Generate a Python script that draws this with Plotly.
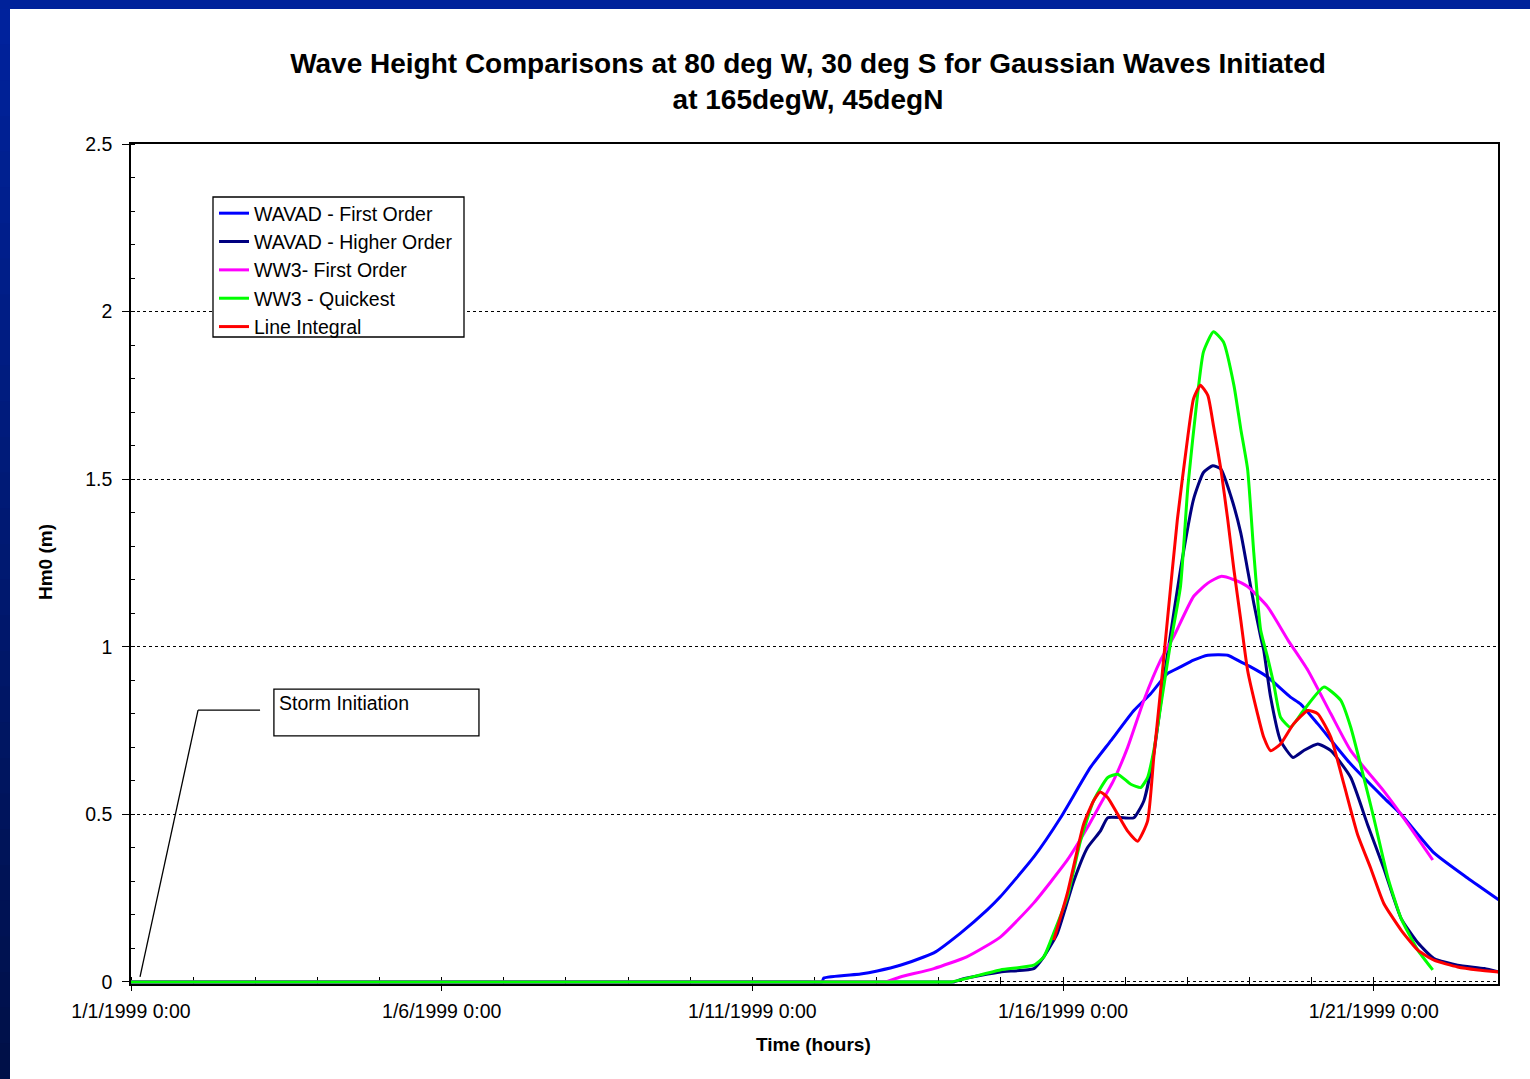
import plotly.graph_objects as go
import pandas as pd

START = pd.Timestamp("1999-01-01")

# ---- data (days since 1/1/1999 0:00, Hm0 in m) ----
wavad_first_days = [0, 10.90, 11.12, 11.15, 11.74, 12.01, 12.38, 12.92, 13.35, 13.78, 13.99, 14.53, 14.96,
                    15.44, 15.77, 16.14, 16.41, 16.68, 16.89, 17.10, 17.33, 17.65, 17.86, 18.02,
                    18.29, 18.66, 18.82, 19.10, 19.63, 20.16, 20.44, 20.97, 21.51, 22.01]
wavad_first_vals = [0, 0, 0, 0.012, 0.024, 0.033, 0.05, 0.087, 0.146, 0.215, 0.254, 0.373, 0.49,
                    0.64, 0.72, 0.81, 0.86, 0.92, 0.94, 0.96, 0.975, 0.975, 0.955, 0.94,
                    0.91, 0.85, 0.83, 0.77, 0.65, 0.55, 0.50, 0.385, 0.31, 0.245]

wavad_higher_days = [0, 13.05, 13.24, 13.40, 13.99, 14.53, 14.69, 14.91, 15.17, 15.39, 15.60, 15.72, 15.97,
                     16.14, 16.30, 16.46, 16.62, 16.70, 16.89, 17.10, 17.26, 17.41, 17.54, 17.70,
                     17.86, 17.97, 18.07, 18.18, 18.23, 18.34, 18.50, 18.70, 18.87, 19.10, 19.31,
                     19.63, 19.90, 20.16, 20.44, 20.71, 20.97, 21.35, 21.78, 22.01]
wavad_higher_vals = [0, 0, 0, 0.01, 0.03, 0.04, 0.075, 0.146, 0.30, 0.40, 0.45, 0.49, 0.49,
                     0.49, 0.54, 0.68, 0.90, 1.0, 1.23, 1.44, 1.52, 1.54, 1.53, 1.45,
                     1.34, 1.23, 1.13, 1.03, 0.99, 0.85, 0.72, 0.67, 0.69, 0.71, 0.69,
                     0.61, 0.47, 0.34, 0.19, 0.117, 0.07, 0.05, 0.04, 0.03]

ww3_first_days = [0, 11.90, 12.13, 12.38, 12.92, 13.45, 13.99, 14.53, 15.07, 15.39, 15.60, 15.81, 16.04,
                  16.30, 16.57, 16.78, 17.10, 17.33, 17.54, 17.75, 17.97, 18.29, 18.62, 18.94,
                  19.31, 19.63, 20.16, 20.44, 20.95]
ww3_first_vals = [0, 0, 0, 0.015, 0.04, 0.075, 0.134, 0.236, 0.364, 0.46, 0.53, 0.60, 0.70,
                  0.84, 0.96, 1.03, 1.15, 1.19, 1.21, 1.20, 1.18, 1.12, 1.02, 0.93,
                  0.80, 0.69, 0.57, 0.50, 0.364]

ww3_quick_days = [0, 13.00, 13.20, 13.99, 14.53, 14.69, 14.85, 15.07, 15.28, 15.49, 15.72, 15.88, 16.09,
                  16.25, 16.36, 16.46, 16.57, 16.72, 16.89, 17.01, 17.17, 17.26, 17.42, 17.58,
                  17.75, 17.86, 17.97, 18.07, 18.18, 18.29, 18.39, 18.50, 18.66, 18.87, 19.20,
                  19.47, 19.63, 19.84, 20.00, 20.23, 20.44, 20.71, 20.95]
ww3_quick_vals = [0, 0, 0, 0.036, 0.05, 0.075, 0.146, 0.254, 0.42, 0.54, 0.61, 0.62, 0.59,
                  0.58, 0.61, 0.69, 0.82, 1.0, 1.18, 1.48, 1.76, 1.88, 1.94, 1.91,
                  1.78, 1.65, 1.53, 1.28, 1.05, 0.97, 0.89, 0.79, 0.76, 0.81, 0.88,
                  0.84, 0.76, 0.61, 0.49, 0.31, 0.19, 0.095, 0.036]

line_int_days = [14.85, 15.07, 15.33, 15.49, 15.60, 15.72, 15.88, 16.04, 16.20, 16.36, 16.46, 16.57,
                 16.68, 16.84, 17.01, 17.10, 17.21, 17.33, 17.42, 17.54, 17.65, 17.75, 17.86,
                 17.97, 18.13, 18.23, 18.34, 18.50, 18.71, 18.94, 19.10, 19.31, 19.52, 19.74,
                 19.95, 20.16, 20.44, 20.71, 20.97, 21.35, 21.68, 22.01]
line_int_vals = [0.125, 0.265, 0.47, 0.54, 0.567, 0.55, 0.50, 0.45, 0.42, 0.48, 0.67, 0.87,
                 1.08, 1.38, 1.63, 1.74, 1.78, 1.75, 1.66, 1.53, 1.38, 1.23, 1.08,
                 0.93, 0.80, 0.73, 0.69, 0.71, 0.77, 0.81, 0.80, 0.73, 0.59, 0.44,
                 0.34, 0.235, 0.155, 0.095, 0.065, 0.045, 0.036, 0.03]

series_names = ["WAVAD - First Order", "WAVAD - Higher Order", "WW3- First Order",
                "WW3 - Quickest", "Line Integral"]
series_colors = ["#0000FF", "#000080", "#FF00FF", "#00FF00", "#FF0000"]
series_data = [(wavad_first_days, wavad_first_vals), (wavad_higher_days, wavad_higher_vals),
               (ww3_first_days, ww3_first_vals), (ww3_quick_days, ww3_quick_vals),
               (line_int_days, line_int_vals)]

x_tick_days = [0, 5, 10, 15, 20]


def to_time(days):
    return [START + pd.Timedelta(days=float(d)) for d in days]


FONT = "Arial, Liberation Sans, sans-serif"
W, H = 1530, 1079
L, R, T, B = 131, 1498, 144, 984
PW, PH = R - L, B - T


def px2x(px):
    return (px - L) / PW


def px2y(py):
    return (B - py) / PH


fig = go.Figure()
for name, color, (d, v) in zip(series_names, series_colors, series_data):
    fig.add_trace(go.Scatter(x=to_time(d), y=v, mode="lines", name=name,
                             line=dict(color=color, width=3, shape="spline", smoothing=0.5)))

shapes = []
# slide background strips (blue frame on top and left)
shapes.append(dict(type="rect", xref="paper", yref="paper", x0=px2x(0), x1=px2x(W + 5),
                   y0=px2y(9), y1=px2y(-5), fillcolor="rgb(0,34,154)", line=dict(width=0),
                   layer="below"))
nseg = 30
for i in range(nseg):
    t = i / (nseg - 1)
    g = int(round(34 + (16 - 34) * t))
    b = int(round(156 + (72 - 156) * t))
    y_top = 9 + (H - 9) * i / nseg
    y_bot = 9 + (H - 9) * (i + 1) / nseg
    shapes.append(dict(type="rect", xref="paper", yref="paper", x0=px2x(-5), x1=px2x(10),
                       y0=px2y(y_bot + 1), y1=px2y(y_top), fillcolor=f"rgb(0,{g},{b})",
                       line=dict(width=0), layer="below"))

# Storm Initiation callout
callout_days = [0.145, 1.079, 2.077]
callout_vals = [0.015, 0.811, 0.811]
cp = to_time(callout_days)
for i in range(2):
    shapes.append(dict(type="line", xref="x", yref="y", x0=cp[i], y0=callout_vals[i],
                       x1=cp[i + 1], y1=callout_vals[i + 1], line=dict(color="black", width=1.3)))
bx = to_time([2.30, 5.60])
shapes.append(dict(type="rect", xref="x", yref="y", x0=bx[0], x1=bx[1], y0=0.734, y1=0.874,
                   line=dict(color="black", width=1.3), fillcolor="white"))

# legend frame
shapes.append(dict(type="rect", xref="paper", yref="paper", x0=px2x(213), x1=px2x(464),
                   y0=px2y(337), y1=px2y(197), line=dict(color="black", width=1.3),
                   fillcolor="white", layer="above"))

annotations = [
    dict(text="Storm Initiation", xref="x", yref="y", x=to_time([2.35])[0], y=0.832,
         xanchor="left", yanchor="middle", showarrow=False, font=dict(family=FONT, size=19.5, color="black")),
    dict(text="<b>Hm0 (m)</b>", xref="paper", yref="paper", x=px2x(45), y=px2y(562),
         textangle=-90, showarrow=False, font=dict(family=FONT, size=19, color="black"),
         xanchor="center", yanchor="middle"),
    dict(text="<b>Time (hours)</b>", xref="paper", yref="paper", x=px2x(813), y=px2y(1044),
         showarrow=False, font=dict(family=FONT, size=19, color="black"),
         xanchor="center", yanchor="middle"),
]

fig.update_layout(
    width=W, height=H,
    margin=dict(l=L, r=W - R, t=T, b=H - B, pad=0),
    paper_bgcolor="white", plot_bgcolor="white",
    font=dict(family=FONT, size=19, color="black"),
    title=dict(text="<b>Wave Height Comparisons at 80 deg W, 30 deg S for Gaussian Waves Initiated<br>at 165degW, 45degN</b>",
               xref="paper", x=px2x(808), xanchor="center", yref="container", y=1 - 73 / H,
               yanchor="middle", font=dict(family=FONT, size=28, color="black")),
    showlegend=True,
    legend=dict(x=px2x(214), y=px2y(194), xanchor="left", yanchor="top",
                bgcolor="rgba(0,0,0,0)", borderwidth=0,
                font=dict(family=FONT, size=19.5, color="black"), tracegroupgap=0),
    shapes=shapes,
    annotations=annotations,
)

fig.update_xaxes(
    type="date",
    range=[START, START + pd.Timedelta(days=22)],
    tickmode="array",
    tickvals=to_time(x_tick_days),
    ticktext=[t.strftime("%-m/%-d/%Y %-H:%M") for t in to_time(x_tick_days)],
    ticks="outside", ticklen=5, tickwidth=1.3, tickcolor="black",
    ticklabelstandoff=4,
    minor=dict(dtick=86400000, tick0=START, ticks="inside", ticklen=7, tickwidth=1.3,
               tickcolor="black", showgrid=False),
    showline=True, linecolor="black", linewidth=1.5, mirror=True,
    showgrid=False, zeroline=False, layer="below traces",
    tickfont=dict(family=FONT, size=19.5, color="black"),
)
fig.update_yaxes(
    range=[-0.006, 2.5], dtick=0.5, tick0=0,
    ticks="outside", ticklen=7, tickwidth=1.3, tickcolor="black",
    ticklabelstandoff=6,
    minor=dict(dtick=0.1, tick0=0, ticks="inside", ticklen=4, tickwidth=1.3, tickcolor="black", showgrid=False),
    showline=True, linecolor="black", linewidth=1.5, mirror=True,
    showgrid=True, gridcolor="black", gridwidth=1, griddash="dot",
    zeroline=False, layer="below traces",
    tickfont=dict(family=FONT, size=19.5, color="black"),
)

fig.write_html("out.html")
